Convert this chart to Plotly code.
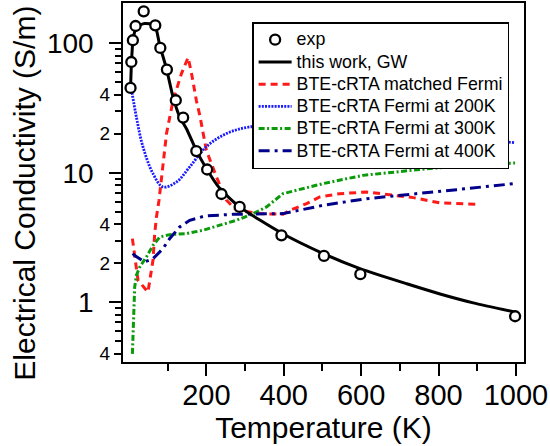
import plotly.graph_objects as go

# ---- data ----
exp_T = [4, 6, 10, 17, 38, 68, 81, 98, 121, 140, 174, 202, 239, 286, 394, 504, 598, 998]
exp_sigma = [45.2, 71.7, 105.5, 136, 176.6, 137.7, 92, 62.7, 36.3, 26.7, 14.7, 10.6, 6.86, 5.45, 3.29, 2.28, 1.65, 0.78]

gw_T = [4, 6.5, 10.3, 19, 40.6, 66.5, 79.4, 96.8, 113.8, 131, 148.5, 174, 200, 235, 286, 394, 502, 597, 718, 804, 890, 998]
gw_sigma = [45, 72, 105, 133.6, 142, 137.7, 96.5, 63.8, 38.5, 27, 21.9, 14.9, 10.8, 7.55, 5.45, 3.43, 2.38, 1.82, 1.39, 1.16, 0.99, 0.84]

red_T = [8.8, 17.3, 23.3, 49, 55, 62, 66.5, 71, 77.6, 84, 97, 114, 135.6, 152.7, 161, 174, 183, 200, 226, 252, 278, 338, 373, 398, 416, 459, 493, 545, 614, 692, 735, 804, 899]
red_sigma = [3.1, 1.93, 1.48, 1.2, 1.57, 2.11, 3.39, 4.56, 6.14, 9.3, 20.1, 36.3, 58.3, 77.6, 60, 36.3, 27.8, 14.9, 9.3, 6.14, 5.13, 4.84, 4.84, 4.78, 5.13, 5.78, 6.5, 6.9, 7.11, 6.7, 6.43, 5.85, 5.71]

blue_T = [6.5, 19, 36, 62, 88, 123, 157, 200, 252, 312, 400, 500, 600, 700, 800, 900, 998]
blue_sigma = [44, 27, 15.9, 9.86, 7.77, 8.5, 11.1, 15.9, 20.1, 22.6, 23.5, 23, 22, 20.5, 19, 18, 17.1]

green_T = [8.8, 12.2, 14.7, 19, 27.7, 45, 62, 79.4, 105, 148.5, 191, 235, 278, 321, 355.5, 398, 502, 605, 718, 778, 880, 998]
green_sigma = [0.40, 0.867, 1.31, 1.61, 1.87, 2.24, 2.75, 3.19, 3.33, 3.39, 3.6, 3.94, 4.3, 4.84, 5.45, 6.9, 8.26, 9.55, 10.4, 10.8, 11.4, 11.9]

navy_T = [9.6, 14.7, 40.6, 62, 88, 105, 131, 157, 196, 235, 269, 398, 502, 614, 735, 847, 998]
navy_sigma = [2.38, 2.3, 2.05, 2.17, 2.6, 3.1, 3.82, 4.3, 4.64, 4.72, 4.78, 4.84, 5.61, 6.31, 6.9, 7.41, 8.26]

x_ticks = [200, 400, 600, 800, 1000]
x_minor = [100, 300, 500, 700, 900]
y_major = [1, 10, 100]
y_major_text = ["1", "10", "100"]
y_sub = [0.4, 2, 4, 20, 40]
y_sub_text = ["4", "2", "4", "2", "4"]
y_minor = [0.5, 0.6, 0.7, 0.8, 0.9, 3, 5, 6, 7, 8, 9, 30, 50, 60, 70, 80, 90]

names = ["exp", "this work, GW", "BTE-cRTA matched Fermi", "BTE-cRTA Fermi at 200K",
         "BTE-cRTA Fermi at 300K", "BTE-cRTA Fermi at 400K"]

FONT = "Liberation Sans, Arial, Helvetica, sans-serif"


def lg(s):
    return '<span style="font-size:17.8px">' + s + '</span>'


fig = go.Figure()
fig.add_trace(go.Scatter(x=red_T, y=red_sigma, mode="lines", name=lg(names[2]),
                         line=dict(color="#ff1a1a", width=3, dash="7px,5px"), legendrank=3))
fig.add_trace(go.Scatter(x=blue_T, y=blue_sigma, mode="lines", name=lg(names[3]),
                         line=dict(color="#1a1aff", width=2.8, dash="2px,1.2px", shape="spline"), legendrank=4))
fig.add_trace(go.Scatter(x=green_T, y=green_sigma, mode="lines", name=lg(names[4]),
                         line=dict(color="#0a9a0a", width=3, dash="6px,2.5px,2px,2.5px"), legendrank=5))
fig.add_trace(go.Scatter(x=navy_T, y=navy_sigma, mode="lines", name=lg(names[5]),
                         line=dict(color="#00008b", width=3, dash="11px,5px,3px,5px"), legendrank=6))
fig.add_trace(go.Scatter(x=gw_T, y=gw_sigma, mode="lines", name=lg(names[1]),
                         line=dict(color="black", width=3, shape="spline", smoothing=0.6), legendrank=2))
fig.add_trace(go.Scatter(x=exp_T, y=exp_sigma, mode="markers", name=lg(names[0]),
                         marker=dict(symbol="circle", size=10, color="white",
                                     line=dict(color="black", width=2.3)), legendrank=1))
fig.add_trace(go.Scatter(x=[None], y=[None], yaxis="y2", showlegend=False, hoverinfo="skip"))

fig.update_layout(
    width=550, height=446,
    margin=dict(l=123, r=26, t=3, b=84, autoexpand=False),
    paper_bgcolor="white", plot_bgcolor="white",
    font=dict(family=FONT, color="black"),
    showlegend=True,
    legend=dict(x=0.322, y=0.947, xanchor="left", yanchor="top",
                bgcolor="white", bordercolor="black", borderwidth=1.5, itemwidth=33,
                font=dict(size=14.8, family=FONT), tracegroupgap=0),
    xaxis=dict(range=[-15.5, 1021], automargin=False, showline=True, linecolor="black", linewidth=1.5, mirror=True,
               showgrid=False, zeroline=False,
               tickmode="array", tickvals=x_ticks, ticks="outside", ticklen=12, tickwidth=1.5, tickcolor="black",
               tickfont=dict(size=29, family=FONT), ticklabelstandoff=-6,
               minor=dict(tickmode="array", tickvals=x_minor, ticks="outside", ticklen=7, tickwidth=1.5, tickcolor="black", showgrid=False),
               title=dict(text="Temperature (K)", font=dict(size=30, family=FONT), standoff=2)),
    yaxis=dict(type="log", range=[-0.461, 2.311], automargin=False, showline=True, linecolor="black", linewidth=1.5, mirror=True,
               showgrid=False, zeroline=False,
               tickmode="array", tickvals=y_major, ticktext=y_major_text,
               ticks="outside", ticklen=12, tickwidth=1.5, tickcolor="black",
               tickfont=dict(size=28, family=FONT), ticklabelstandoff=10,
               minor=dict(tickmode="array", tickvals=y_minor, ticks="outside", ticklen=6, tickwidth=1.5, tickcolor="black", showgrid=False)),
    yaxis2=dict(type="log", range=[-0.461, 2.311], automargin=False, overlaying="y", side="left", anchor="x",
                showline=False, showgrid=False, zeroline=False,
                tickmode="array", tickvals=y_sub, ticktext=y_sub_text,
                ticks="outside", ticklen=8, tickwidth=1.5, tickcolor="black",
                tickfont=dict(size=19, family=FONT)),
    annotations=[dict(text="Electrical Conductivity (S/m)", textangle=-90, showarrow=False,
                      xref="paper", yref="paper", x=-0.245, y=0.471, xanchor="center", yanchor="middle",
                      font=dict(size=30, family=FONT, color="black"))],
)

fig.write_html("out.html", config={"displayModeBar": False},
               post_script="document.body.style.margin='0px';document.body.style.overflow='hidden';")
